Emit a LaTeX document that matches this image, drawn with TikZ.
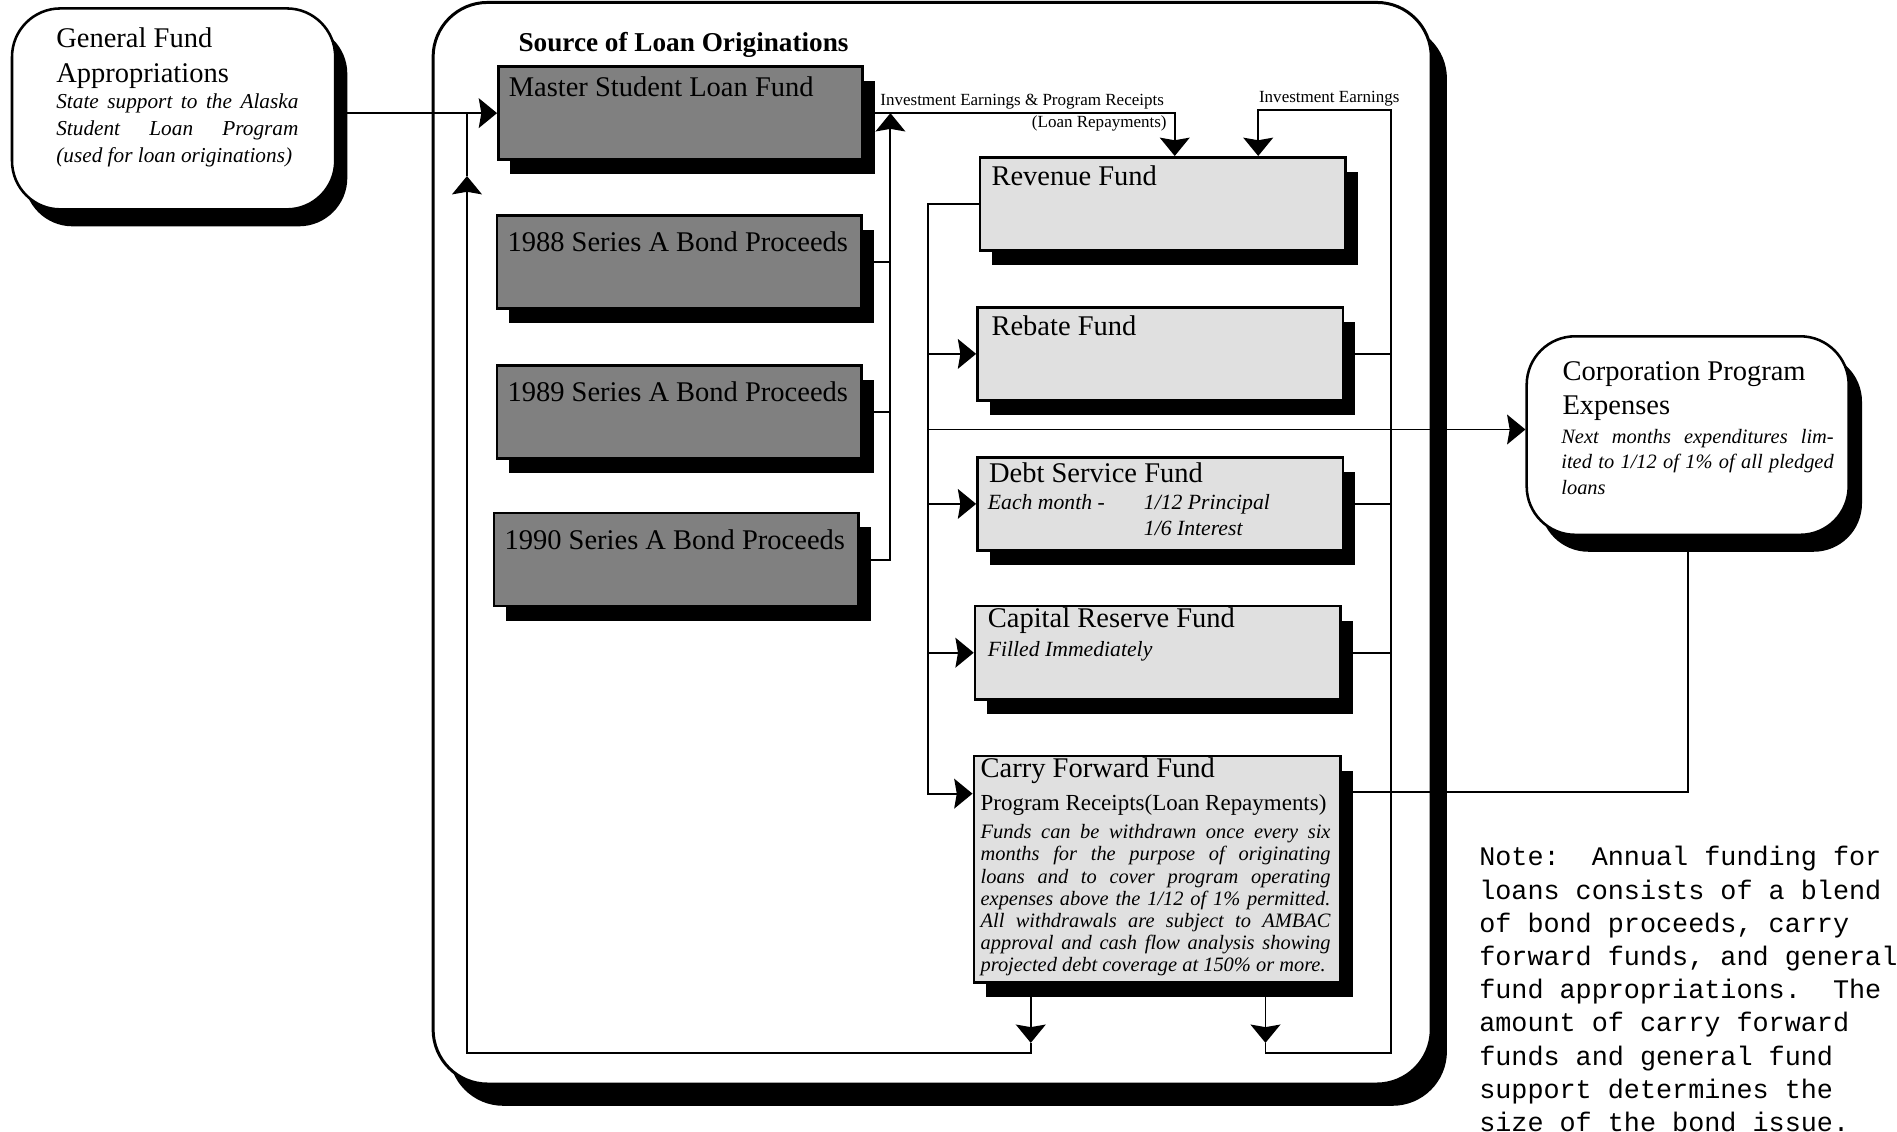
\documentclass[tikz,border=0pt]{standalone}
\usepackage{fontspec}
\setmainfont{Liberation Serif}
\setmonofont{Liberation Mono}
\usetikzlibrary{arrows.meta,shadows,calc}

\begin{document}
\begin{tikzpicture}[x=0.01cm, y=-0.01cm,
  conn/.style={line width=0.45pt},
  connarrow/.style={conn, -{Stealth[length=4.3pt,width=7pt,inset=0.6pt]}},
  boxshadow/.style={drop shadow={shadow xshift=1mm, shadow yshift=-1.2mm, fill=black, opacity=1}},
  darkfund/.style={draw, line width=0.6pt, fill=black!50, minimum width=3.01cm, minimum height=0.77cm, inner sep=0pt, boxshadow},
  lightfund/.style={darkfund, fill=black!12, minimum width=3.02cm},
  roundbox/.style={draw, line width=0.6pt, fill=white, rounded corners=0.4cm, inner sep=0pt},
  fundname/.style={anchor=base west, inner sep=0pt, font=\fontsize{6.7}{8}\selectfont},
  smallnote/.style={anchor=base west, inner sep=0pt, font=\fontsize{5.1}{6}\selectfont\itshape},
  tinylabel/.style={inner sep=0pt, font=\fontsize{4}{5}\selectfont},
  parablock/.style={anchor=north west, inner sep=0pt, align=justify},
]
  \useasboundingbox (0,0) rectangle (1568,935);

  % Big frame round the loan sources and funds
  \draw[line width=0.7pt, fill=white, rounded corners=0.45cm, drop shadow={shadow xshift=1.3mm, shadow yshift=-1.8mm, fill=black, opacity=1}] (358,2) rectangle (1183,896);

  % General fund on the left
  \node[roundbox, minimum width=2.67cm, minimum height=1.66cm, drop shadow={shadow xshift=1mm, shadow yshift=-1.4mm, fill=black, opacity=1}] (genfund) at (143.5,90) {};
  \node[fundname] (genhead) at ($(genfund.north west)+(37,33)$) {General Fund};
  \node[fundname] (genhead2) at ($(genfund.north west)+(37,62)$) {Appropriations};
  \node[parablock, text width=2cm, font=\fontsize{5}{6.3}\selectfont\itshape] (gentext) at ($(genfund.north west)+(37,71)$) {State support to the Alaska\linebreak Student Loan Program\linebreak (used for loan originations)};

  % Sources of loan originations
  \node[font=\fontsize{6.4}{8}\selectfont\bfseries, inner sep=0pt] (srctitle) at (565,37) {Source of Loan Originations};
  \node[darkfund] (master) at (562.5,93.5) {};
  \node[darkfund] (bond88) at (561.5,216.5) {};
  \node[darkfund] (bond89) at (561.5,340.5) {};
  \node[darkfund] (bond90) at (559,462.5) {};
  \node[fundname] (mastername) at ($(master.north west)+(9,26)$) {Master Student Loan Fund};
  \node[fundname] (bond88name) at ($(bond88.north west)+(9,31)$) {1988 Series A Bond Proceeds};
  \node[fundname] (bond89name) at ($(bond89.north west)+(9,31)$) {1989 Series A Bond Proceeds};
  \node[fundname] (bond90name) at ($(bond90.north west)+(9,31)$) {1990 Series A Bond Proceeds};

  % Trust funds
  \node[lightfund] (revenue) at (961,168.5) {};
  \node[lightfund] (rebate) at (959,292.5) {};
  \node[lightfund] (debtsvc) at (959,416.5) {};
  \node[lightfund] (capres) at (957,539.5) {};
  \node[lightfund, minimum width=3.03cm, minimum height=1.87cm] (carryfwd) at (956.5,718.5) {};
  \node[fundname] (revname) at ($(revenue.north west)+(10,24)$) {Revenue Fund};
  \node[fundname] (rebname) at ($(rebate.north west)+(12,24)$) {Rebate Fund};
  \node[fundname] (debtname) at ($(debtsvc.north west)+(10,22)$) {Debt Service Fund};
  \node[smallnote] (debtnote) at ($(debtsvc.north west)+(9,44)$) {Each month -};
  \node[smallnote] (debtprin) at ($(debtsvc.north west)+(138,44)$) {1/12 Principal};
  \node[smallnote] (debtint) at ($(debtsvc.north west)+(138,66)$) {1/6 Interest};
  \node[fundname] (capname) at ($(capres.north west)+(11,19)$) {Capital Reserve Fund};
  \node[smallnote] (capnote) at ($(capres.north west)+(11,43)$) {Filled Immediately};
  \node[fundname] (carryname) at ($(carryfwd.north west)+(6,19)$) {Carry Forward Fund};
  \node[fundname, font=\fontsize{5.4}{6}\selectfont] (carryrcpt) at ($(carryfwd.north west)+(6,46)$) {Program Receipts(Loan Repayments)};
  \node[parablock, text width=2.89cm, font=\fontsize{4.8}{5.2}\selectfont\itshape] (carrytext) at ($(carryfwd.north west)+(6,57)$) {Funds can be withdrawn once every six\linebreak months for the purpose of originating\linebreak loans and to cover program operating\linebreak expenses above the 1/12 of 1\% permitted.\linebreak All withdrawals are subject to AMBAC\linebreak approval and cash flow analysis showing\linebreak projected debt coverage at 150\% or more.};

  % Corporation expenses on the right
  \node[roundbox, minimum width=2.66cm, minimum height=1.64cm, drop shadow={shadow xshift=1.1mm, shadow yshift=-1.4mm, fill=black, opacity=1}] (corpexp) at (1395,360) {};
  \node[fundname] (corphead) at ($(corpexp.north west)+(30,38)$) {Corporation Program};
  \node[fundname] (corphead2) at ($(corpexp.north west)+(30,66)$) {Expenses};
  \node[parablock, text width=2.25cm, font=\fontsize{4.8}{6}\selectfont\itshape] (corptext) at ($(corpexp.north west)+(29,77)$) {Next months expenditures lim-\linebreak ited to 1/12 of 1\% of all pledged\linebreak loans};

  % Note
  \node[anchor=north west, inner sep=0pt, align=left, font=\fontsize{6.3}{7.8}\selectfont\ttfamily] (note) at (1222,699) {Note:\ \ Annual funding for\\loans consists of a blend\\of bond proceeds, carry\\forward funds, and general\\fund appropriations.\ \ The\\amount of carry forward\\funds and general fund\\support determines the\\size of the bond issue.};

  % Flow labels
  \node[tinylabel, anchor=base west] (ielabel) at (727,87) {Investment Earnings \& Program Receipts};
  \node[tinylabel, anchor=base east] (lrlabel) at (965,105) {(Loan Repayments)};
  \node[tinylabel, anchor=base west] (ielabel2) at (1040,85) {Investment Earnings};

  % Turning points of the connectors
  \coordinate (ieturn) at (971,93.5);
  \coordinate (bondbus) at (736,93.5);
  \coordinate (fundbus) at (767,656);
  \coordinate (cpeline) at (767,355);
  \coordinate (retbus) at (1150,91);
  \coordinate (retleft) at (852,870);
  \coordinate (retright) at (1046,870);
  \coordinate (genbus) at (386,93.5);
  \coordinate (cfout) at (1393,655);

  % Connectors
  \draw[connarrow] (genfund.east |- master.west) -- (master.west);
  \draw[connarrow] (master.east) -- (ieturn) -- (ieturn |- revenue.north);
  \draw[connarrow] (bond90.east) -| (bondbus);
  \draw[conn] (bond88.east) -- (bond88.east -| bondbus);
  \draw[conn] (bond89.east) -- (bond89.east -| bondbus);
  \draw[connarrow] (revenue.west) -| (fundbus) -- (fundbus -| carryfwd.west);
  \foreach \f in {rebate, debtsvc, capres}
    \draw[connarrow] (\f.west -| fundbus) -- (\f.west);
  \foreach \f in {rebate, debtsvc, capres}
    \draw[conn] (\f.east) -- (\f.east -| retbus);
  \draw[connarrow] (cpeline) -- (cpeline -| corpexp.west);
  \draw[conn] (carryfwd.east |- cfout) -| (corpexp.south);

  % Carry forward returns
  \draw[connarrow] (retleft |- carryfwd.south) -- ($(retleft)+(0,-8)$);
  \draw[connarrow] ($(retleft)+(0,-8)$) -- (retleft) -| ($(genbus)+(0,52)$);
  \draw[conn] ($(genbus)+(0,52)$) -- (genbus);
  \draw[connarrow] (retright |- carryfwd.south) -- ($(retright)+(0,-8)$);
  \draw[connarrow] ($(retright)+(0,-8)$) -- (retright) -| (retbus) -| ($(revenue.north)+(79,0)$);
\end{tikzpicture}
\end{document}
